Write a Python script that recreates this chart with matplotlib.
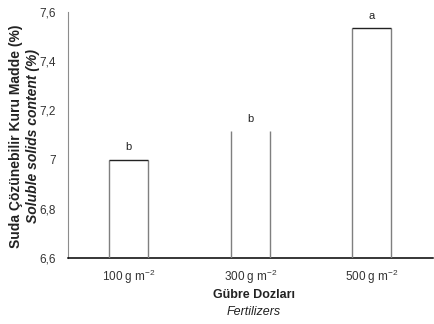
import matplotlib
matplotlib.use("Agg")
import matplotlib.pyplot as plt

plt.rcParams['font.family'] = ['Liberation Sans', 'DejaVu Sans']
plt.rcParams['mathtext.fontset'] = 'custom'
plt.rcParams['mathtext.rm'] = 'Liberation Sans'
plt.rcParams['mathtext.it'] = 'Liberation Sans:italic'

categories = ['100 g m$^{-2}$', '300 g m$^{-2}$', '500 g m$^{-2}$']
values = [7.00, 7.115, 7.535]
letters = ['b', 'b', 'a']
show_top = [True, False, True]  # the middle bar is drawn without its top edge
yticks = [6.6, 6.8, 7.0, 7.2, 7.4, 7.6]
ytick_labels = ['6,6', '6,8', '7', '7,2', '7,4', '7,6']

fig = plt.figure(figsize=(4.34, 3.24), dpi=100)
ax = fig.add_axes([0.157, 0.204, 0.84, 0.759])

x = range(len(categories))
width = 0.32
bars = ax.bar(x, [v - 6.6 for v in values], bottom=6.6, width=width,
              color='white', edgecolor='none', zorder=2)
for b, top in zip(bars, show_top):
    x0, x1 = b.get_x(), b.get_x() + b.get_width()
    h = b.get_y() + b.get_height()
    ax.vlines([x0, x1], 6.6, h, color='#7f7f7f', lw=1.0, zorder=3)
    if top:
        ax.hlines(h, x0, x1, color='#222222', lw=1.0, zorder=3)

for xi, v, t in zip(x, values, letters):
    ax.text(xi, v + 0.03, t, ha='center', va='bottom', fontsize=8, color='#222222')

ax.set_xlim(-0.5, 2.5)
ax.set_ylim(6.6, 7.6)
ax.set_yticks(yticks)
ax.set_yticklabels(ytick_labels)
ax.set_xticks(list(x))
ax.set_xticklabels(categories)
ax.tick_params(axis='both', length=0, labelsize=8.5, colors='#333333')
ax.tick_params(axis='y', pad=9)
ax.tick_params(axis='x', pad=7)

for s in ['top', 'right']:
    ax.spines[s].set_visible(False)
ax.spines['left'].set_color('#8c8c8c')
ax.spines['bottom'].set_color('black')
ax.spines['bottom'].set_linewidth(1.1)

fig.text(0.037, 0.58, 'Suda Çözünebilir Kuru Madde (%)', rotation=90,
         ha='center', va='center', fontsize=10, fontweight='bold', color='#222222')
fig.text(0.076, 0.58, 'Soluble solids content (%)', rotation=90,
         ha='center', va='center', fontsize=10, fontweight='bold', style='italic', color='#222222')
fig.text(0.585, 0.09, 'Gübre Dozları', ha='center', va='center',
         fontsize=9, fontweight='bold', color='#222222')
fig.text(0.585, 0.037, 'Fertilizers', ha='center', va='center',
         fontsize=9, style='italic', color='#222222')

fig.savefig('out.png', dpi=100)
